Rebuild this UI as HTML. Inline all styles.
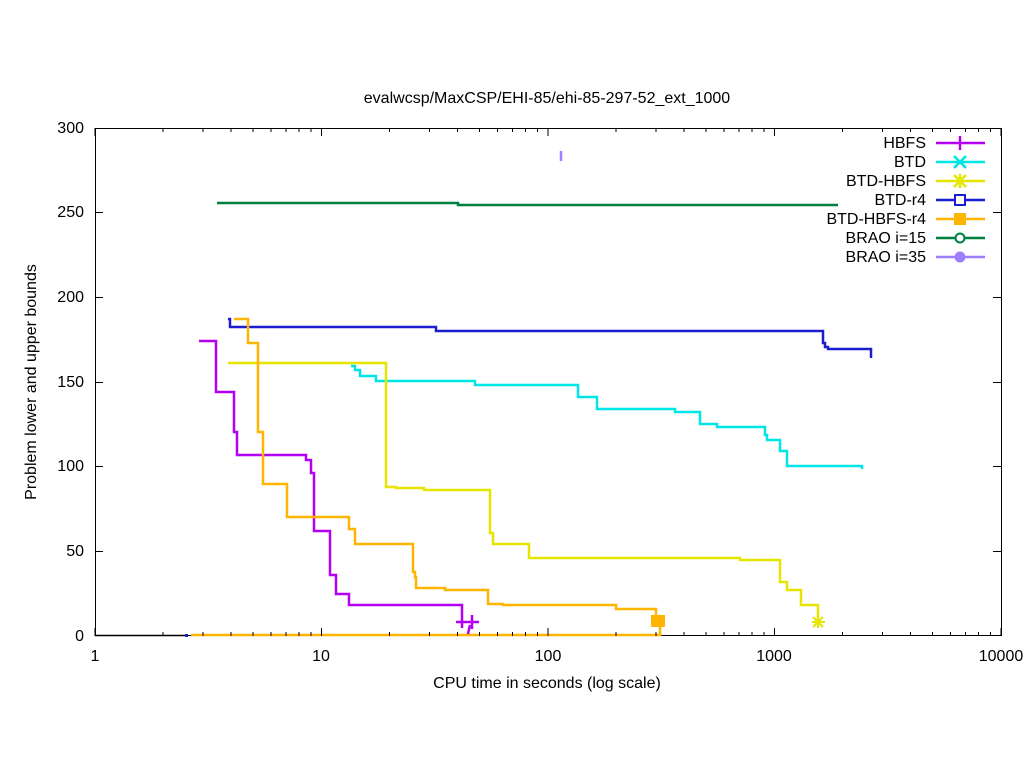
<!DOCTYPE html>
<html><head><meta charset="utf-8"><style>body{margin:0;background:#fff}svg{display:block}text{font-family:"Liberation Sans",sans-serif;font-size:16px;fill:#000}</style></head><body>
<svg width="1024" height="768" xmlns="http://www.w3.org/2000/svg">
<rect width="1024" height="768" fill="#fff"/>
<text x="547" y="103" text-anchor="middle">evalwcsp/MaxCSP/EHI-85/ehi-85-297-52_ext_1000</text>
<g stroke="#000" stroke-width="1" fill="none">
<rect x="95.5" y="128.5" width="906" height="507"/>
<path d="M95 551.5h8M1001 551.5h-8M95 466.5h8M1001 466.5h-8M95 382.5h8M1001 382.5h-8M95 297.5h8M1001 297.5h-8M95 212.5h8M1001 212.5h-8"/>
</g>
<g text-anchor="end">
<text x="84" y="641">0</text><text x="84" y="556">50</text><text x="84" y="471">100</text><text x="84" y="387">150</text><text x="84" y="302">200</text><text x="84" y="217">250</text><text x="84" y="133">300</text>
</g>
<g text-anchor="middle">
<text x="95" y="661">1</text><text x="321" y="661">10</text><text x="548" y="661">100</text><text x="774" y="661">1000</text><text x="1001" y="661">10000</text>
<text x="547" y="688">CPU time in seconds (log scale)</text>
</g>
<text transform="translate(36,382) rotate(-90)" text-anchor="middle">Problem lower and upper bounds</text>
<path d="M95 635.5H186" stroke="#000" stroke-width="1.5" fill="none"/>
<rect x="185" y="634" width="3" height="3" fill="#1c1cd0"/>
<path d="M191 635H660" stroke="#ffb400" stroke-width="2.5" fill="none"/>
<g fill="none" stroke-width="2.5">
<path stroke="#b300f5" d="M199 341H216V392H234V432H237V455H306V460H311V473H314V531H330V575H336V594H349V605H462V628"/>
<path stroke="#b300f5" d="M470 625L468 634"/>
<path stroke="#b300f5" stroke-width="2.5" d="M456 622H479M472 615V629"/>
<path stroke="#00e5e5" d="M351 366H355V370H360V376H376V381H475V385H578V397H597V409H675V412H700V424H717V427H765V435H767V440H780V451H787V466H862V469"/>
<path stroke="#e5e500" d="M228 363H386V487H396V488H424V490H490V533H493V544H529V558H740V560H780V582H787V590H801V605H818V622"/>
<path stroke="#e5e500" stroke-width="2" d="M812 622H825M818 616V628M813 617L823 627M813 627L823 617"/>
<path stroke="#1c1cd0" d="M228 319H230V327H436V331H823V343H825V347H828V349H871V358"/>
<path stroke="#ffb400" d="M234 319H248V343H258V432H263V484H287V517H349V529H355V544H413V572H415V577H416V588H445V590H488V604H503V605H616V609H656V621H660V636"/>
<rect x="651" y="615" width="14" height="12" fill="#ffb400" stroke="none"/>
<path stroke="#007f3f" d="M217 203H458V205H838"/>
<path stroke="#9f7fff" d="M561 151V161"/>
</g>
<g text-anchor="end">
<text x="926" y="148">HBFS</text><text x="926" y="167">BTD</text><text x="926" y="186">BTD-HBFS</text><text x="926" y="205">BTD-r4</text><text x="926" y="224">BTD-HBFS-r4</text><text x="926" y="243">BRAO i=15</text><text x="926" y="262">BRAO i=35</text>
</g>
<g stroke-width="2.5" fill="none">
<path stroke="#b300f5" d="M936 143H985M960 136V150"/>
<path stroke="#00e5e5" d="M936 162H985M954 156L966 168M954 168L966 156"/>
<path stroke="#e5e500" d="M936 181H985M954 175L966 187M954 187L966 175M960 174V188"/>
<path stroke="#1c1cd0" d="M936 200H985"/><rect x="955" y="195" width="10" height="10" stroke="#1c1cd0" stroke-width="2" fill="#fff"/>
<path stroke="#ffb400" d="M936 219H985"/><rect x="954" y="213" width="12" height="12" fill="#ffb400" stroke="none"/>
<path stroke="#007f3f" d="M936 238H985"/><circle cx="960" cy="238" r="4.5" stroke="#007f3f" stroke-width="2" fill="#fff"/>
<path stroke="#9f7fff" d="M936 257H985"/><circle cx="960" cy="257" r="5.5" fill="#9f7fff" stroke="none"/>
</g>
<g stroke="#000" stroke-width="1">
<path d="M95 636v-8M321.5 636v-8M548 636v-8M774.5 636v-8M1001 636v-8M95 128v8M321.5 128v8M548 128v8M774.5 128v8M1001 128v8"/>
<path d="M163 636v-4M203 636v-4M231 636v-4M253 636v-4M271 636v-4M286 636v-4M299 636v-4M311 636v-4M163 128v4M203 128v4M231 128v4M253 128v4M271 128v4M286 128v4M299 128v4M311 128v4
M389.5 636v-4M429.5 636v-4M457.5 636v-4M479.5 636v-4M497.5 636v-4M512.5 636v-4M525.5 636v-4M537.5 636v-4M389.5 128v4M429.5 128v4M457.5 128v4M479.5 128v4M497.5 128v4M512.5 128v4M525.5 128v4M537.5 128v4
M616 636v-4M656 636v-4M684 636v-4M706 636v-4M724 636v-4M739 636v-4M752 636v-4M764 636v-4M616 128v4M656 128v4M684 128v4M706 128v4M724 128v4M739 128v4M752 128v4M764 128v4
M842.5 636v-4M882.5 636v-4M910.5 636v-4M932.5 636v-4M950.5 636v-4M965.5 636v-4M978.5 636v-4M990.5 636v-4M842.5 128v4M882.5 128v4M910.5 128v4M932.5 128v4M950.5 128v4M965.5 128v4M978.5 128v4M990.5 128v4"/>
</g>
</svg>
</body></html>
